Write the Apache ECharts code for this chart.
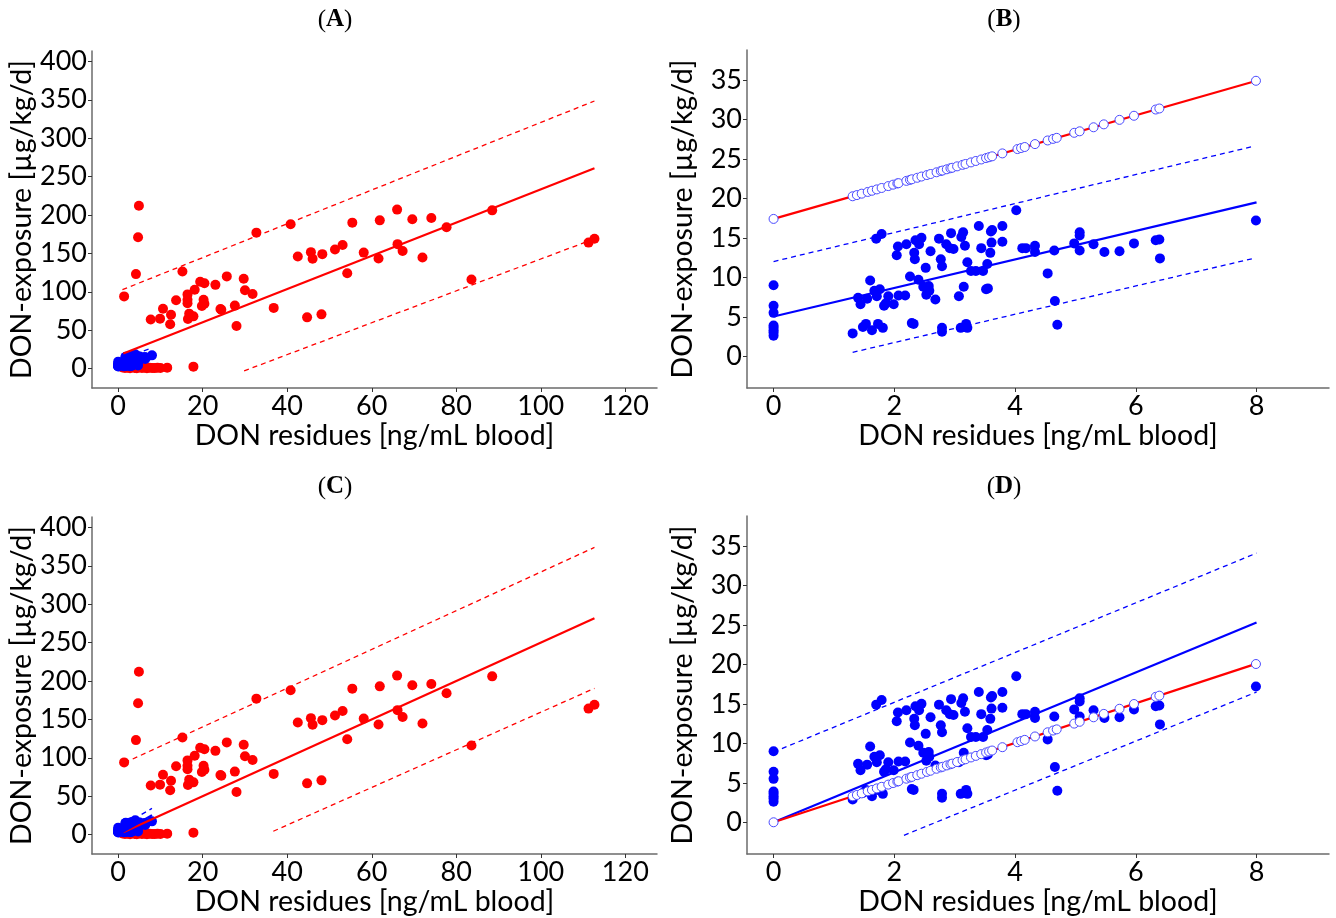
<!DOCTYPE html>
<html>
<head>
<meta charset="utf-8">
<script src="https://cdn.jsdelivr.net/npm/echarts@6/dist/echarts.min.js"></script>
<style>
  html, body { margin: 0; padding: 0; background: #fff; }
  #chart { width: 1336px; height: 918px; }
</style>
</head>
<body>
<div id="chart"></div>
<script>
// ---------------- DATA ----------------
// Panels A/C: red study data (x: DON residues ng/mL, y: DON exposure µg/kg/d)
const redX = [4.9,4.7,4.2,1.4,15.2,7.7,9.9,10.6,12.3,12.5,13.7,16.4,16.4,16.4,16.8,16.5,17.8,18.1,19.4,20.4,20.2,19.8,20.4,23.0,24.2,24.4,25.7,27.6,28.0,29.7,30.0,31.8,32.7,36.8,40.8,42.5,44.7,45.6,46.0,48.1,48.3,51.3,53.1,54.2,55.4,58.1,61.6,61.9,66.0,66.1,67.3,69.6,72.0,74.1,77.7,83.6,88.5,111.3,112.7];
const redY = [212,171,123,94,126.5,64,65,78,57.6,70,89,96.6,89.7,85,71.5,64.6,68,102.7,113,111,89.7,81.5,84.5,109,77.6,76.7,120,82,55.5,117,102,97,177,79,188,146,66.7,151.6,143,70.6,149,155,161,124,190,151,143.4,193,207,162,153,194.5,144.7,196,184,116,206,164,169];
const redLowX = [1.0,1.6,2.2,2.8,3.3,3.9,4.4,5.0,5.6,6.2,6.8,7.4,8.0,8.6,9.3,10.0,11.6,17.8];
const redLowY = [1.5,0.8,1.2,0.5,1.8,0.9,0.4,1.3,0.7,1.0,0.5,1.2,0.8,0.6,1.0,0.7,1.2,2.5];

// Panels B/D: blue study data
const blueX = [0,0,0,0,0,0,0,0,
  1.31,1.40,1.44,1.48,1.53,1.55,1.60,1.63,1.67,1.70,
  1.71,1.73,1.76,1.79,1.81,1.83,1.86,1.90,1.99,2.04,
  2.06,2.07,2.18,2.20,2.26,2.29,2.32,2.33,2.34,2.35,
  2.40,2.41,2.45,2.48,2.52,2.53,2.57,2.58,2.60,2.68,
  2.74,2.77,2.79,2.79,2.79,2.86,2.92,2.94,2.98,3.07,
  3.10,3.11,3.14,3.15,3.17,3.19,3.21,3.21,3.27,3.35,
  3.40,3.44,3.47,3.52,3.54,3.55,3.59,3.60,3.61,3.62,
  3.79,3.79,4.02,4.12,4.18,4.33,4.33,4.54,4.65,4.66,
  4.70,4.98,5.07,5.07,5.07,5.30,5.48,5.73,5.97,6.33,
  6.39,6.40,7.99];
const blueY = [9.0,6.4,5.5,3.9,3.6,3.3,3.0,2.6,
  2.9,7.4,6.6,3.7,4.1,7.3,9.6,3.3,8.3,14.9,
  7.6,4.1,8.5,15.5,3.6,6.4,6.7,7.6,6.6,12.8,
  13.9,7.7,7.7,14.2,10.1,4.2,4.1,13.1,12.3,14.7,
  9.7,14.2,15.0,8.8,11.2,7.8,8.9,8.3,13.3,7.2,
  14.9,12.3,11.4,3.6,3.1,14.2,13.7,15.6,13.6,7.6,
  3.6,15.1,15.7,8.8,14.0,4.1,3.6,11.9,10.8,10.8,
  16.5,13.7,10.8,8.5,11.7,8.6,13.1,15.8,14.4,16.0,
  16.5,14.5,18.5,13.7,13.7,14.0,13.2,10.5,13.4,7.0,
  4.0,14.3,15.7,15.3,13.4,14.2,13.2,13.3,14.3,14.7,
  14.8,12.4,17.2];

// Open circles (model-predicted exposure) in B and D
const openX = [0,1.31,1.38,1.46,1.56,1.63,1.71,1.79,1.90,1.98,2.05,2.07,2.20,2.26,2.29,2.38,2.45,2.54,2.60,2.70,2.77,2.80,2.87,2.93,2.96,3.04,3.13,3.18,3.27,3.35,3.44,3.52,3.57,3.62,3.79,4.04,4.10,4.16,4.33,4.54,4.63,4.69,4.98,5.07,5.30,5.47,5.73,5.97,6.33,6.39,7.99];
const openYB = [17.4,20.27,20.42,20.6,20.82,20.97,21.14,21.32,21.56,21.74,21.89,21.93,22.22,22.35,22.42,22.61,22.77,22.96,23.09,23.31,23.47,23.53,23.69,23.82,23.88,24.06,24.25,24.36,24.56,24.74,24.93,25.11,25.22,25.33,25.7,26.25,26.38,26.51,26.88,27.34,27.54,27.67,28.31,28.5,29.01,29.38,29.95,30.47,31.26,31.39,34.9];
const openYD = [0,3.29,3.46,3.66,3.92,4.09,4.29,4.49,4.77,4.97,5.15,5.2,5.52,5.67,5.75,5.97,6.15,6.38,6.53,6.78,6.95,7.03,7.2,7.35,7.43,7.63,7.86,7.98,8.21,8.41,8.63,8.84,8.96,9.09,9.51,10.14,10.29,10.44,10.87,11.4,11.62,11.77,12.5,12.73,13.3,13.73,14.38,14.98,15.89,16.04,20.05];

// Regression lines and prediction bands (end points [x, y])
const fitRedA   = [[1.2, 19.5], [112.7, 260.8]];
const upRedA    = [[1.0, 102.7], [112.7, 348.4]];
const loRedA    = [[29.8, -3], [112.7, 169]];
const fitRedC   = [[1.2, 3], [112.7, 281.8]];
const upRedC    = [[1.5, 93.5], [112.7, 373.9]];
const loRedC    = [[36.7, 4.3], [112.7, 190.4]];
const fitBlueB  = [[0, 5.04], [8, 19.5]];
const upBlueB   = [[0, 12.0], [7.95, 26.6]];
const loBlueB   = [[1.31, 0.5], [7.95, 12.4]];
const fitRedB   = [[0, 17.4], [8, 34.9]];
const fitBlueD  = [[0, 0], [8, 25.3]];
const upBlueD   = [[0, 8.9], [8, 34.1]];
const loBlueD   = [[2.16, -1.65], [8, 16.5]];
const fitRedD   = [[0, 0], [8, 20.1]];

// Tick labels
const ticksXbig = [0, 20, 40, 60, 80, 100, 120];
const ticksYbig = [0, 50, 100, 150, 200, 250, 300, 350, 400];
const ticksXsmall = [0, 2, 4, 6, 8];
const ticksYsmall = [0, 5, 10, 15, 20, 25, 30, 35];
const panelLabels = ['A', 'B', 'C', 'D'];
const xName = 'DON residues [ng/mL blood]';
const yName = 'DON-exposure [µg/kg/d]';

// ---------------- CHART ----------------
const F = 'Lato';
const RED = '#ff0000', BLUE = '#0000ff';
const chart = echarts.init(document.getElementById('chart'), null, { renderer: 'canvas' });

const grids = [
  { left: 92, top: 51, width: 565, height: 337 },
  { left: 747, top: 50, width: 582, height: 338 },
  { left: 92, top: 517, width: 565, height: 337 },
  { left: 747, top: 516, width: 582, height: 338 }
];

function xAx(gi, min, max, ticks) {
  return {
    type: 'value', gridIndex: gi, min: min, max: max,
    name: xName, nameLocation: 'middle', nameGap: 33,
    nameTextStyle: { fontFamily: F, fontSize: 28.5, color: '#000' },
    axisLine: { onZero: false, lineStyle: { color: '#6b6b6b', width: 1.5 } },
    axisTick: { show: true, length: 4, customValues: ticks, lineStyle: { color: '#333', width: 1 } },
    axisLabel: { customValues: ticks, fontFamily: F, fontSize: 27, color: '#000', margin: 5 },
    splitLine: { show: false }
  };
}
function yAx(gi, min, max, ticks) {
  return {
    type: 'value', gridIndex: gi, min: min, max: max,
    name: yName, nameLocation: 'middle', nameGap: 50,
    nameTextStyle: { fontFamily: F, fontSize: 28.5, color: '#000' },
    axisLine: { onZero: false, lineStyle: { color: '#6b6b6b', width: 1.5 } },
    axisTick: { show: true, length: 4, customValues: ticks, lineStyle: { color: '#333', width: 1 } },
    axisLabel: { customValues: ticks, fontFamily: F, fontSize: 27, color: '#000', margin: 5 },
    splitLine: { show: false }
  };
}
function pts(xs, ys) { return xs.map((x, i) => [x, ys[i]]); }
function scat(gi, data, color, size, z) {
  return { type: 'scatter', xAxisIndex: gi, yAxisIndex: gi, data: data, symbol: 'circle',
    symbolSize: size, itemStyle: { color: color, opacity: 1 }, z: z, silent: true, animation: false };
}
function openScat(gi, data, z) {
  return { type: 'scatter', xAxisIndex: gi, yAxisIndex: gi, data: data, symbol: 'circle',
    symbolSize: 9, itemStyle: { color: '#ffffff', borderColor: '#4a4aff', borderWidth: 1, opacity: 1 },
    z: z, silent: true, animation: false };
}
function seg(gi, data, color, dashed, z) {
  return { type: 'line', xAxisIndex: gi, yAxisIndex: gi, data: data, symbol: 'none', silent: true,
    animation: false, z: z,
    lineStyle: { color: color, width: dashed ? 1.3 : 2.2, type: dashed ? [5, 4] : 'solid' } };
}

const series = [
  // Panel A
  scat(0, pts(redX, redY), RED, 10, 2),
  scat(0, pts(redLowX, redLowY), RED, 10, 2),
  scat(0, pts(blueX, blueY), BLUE, 10, 3),
  seg(0, fitRedA, RED, false, 4), seg(0, upRedA, RED, true, 4), seg(0, loRedA, RED, true, 4),
  seg(0, fitBlueB, BLUE, false, 4), seg(0, upBlueB, BLUE, true, 4), seg(0, loBlueB, BLUE, true, 4),
  // Panel B
  scat(1, pts(blueX, blueY), BLUE, 10, 2),
  seg(1, fitBlueB, BLUE, false, 3), seg(1, upBlueB, BLUE, true, 3), seg(1, loBlueB, BLUE, true, 3),
  seg(1, fitRedB, RED, false, 3),
  openScat(1, pts(openX, openYB), 4),
  // Panel C
  scat(2, pts(redX, redY), RED, 10, 2),
  scat(2, pts(redLowX, redLowY), RED, 10, 2),
  scat(2, pts(blueX, blueY), BLUE, 10, 3),
  seg(2, fitRedC, RED, false, 4), seg(2, upRedC, RED, true, 4), seg(2, loRedC, RED, true, 4),
  seg(2, fitBlueD, BLUE, false, 4), seg(2, upBlueD, BLUE, true, 4), seg(2, loBlueD, BLUE, true, 4),
  // Panel D
  scat(3, pts(blueX, blueY), BLUE, 10, 2),
  seg(3, fitBlueD, BLUE, false, 3), seg(3, upBlueD, BLUE, true, 3), seg(3, loBlueD, BLUE, true, 3),
  seg(3, fitRedD, RED, false, 3),
  openScat(3, pts(openX, openYD), 4)
];

const titlePos = [[335, 20], [1004, 20], [335, 487], [1004, 487]];
const graphics = panelLabels.map((lab, i) => ({
  type: 'text', x: titlePos[i][0], y: titlePos[i][1], silent: true,
  style: {
    text: '{p|(}{b|' + lab + '}{p|)}',
    align: 'center', verticalAlign: 'middle',
    rich: {
      p: { fontFamily: 'Liberation Serif', fontSize: 25, fill: '#000', color: '#000' },
      b: { fontFamily: 'Liberation Serif', fontSize: 25, fontWeight: 'bold', fill: '#000', color: '#000' }
    }
  }
}));

chart.setOption({
  animation: false,
  backgroundColor: '#ffffff',
  grid: grids,
  xAxis: [
    xAx(0, -6.2, 127.5, ticksXbig),
    xAx(1, -0.44, 9.2, ticksXsmall),
    xAx(2, -6.2, 127.5, ticksXbig),
    xAx(3, -0.44, 9.2, ticksXsmall)
  ],
  yAxis: [
    yAx(0, -25.3, 413.5, ticksYbig),
    yAx(1, -4.02, 38.8, ticksYsmall),
    yAx(2, -25.3, 413.5, ticksYbig),
    yAx(3, -4.02, 38.8, ticksYsmall)
  ],
  series: series,
  graphic: graphics
});
</script>
</body>
</html>
